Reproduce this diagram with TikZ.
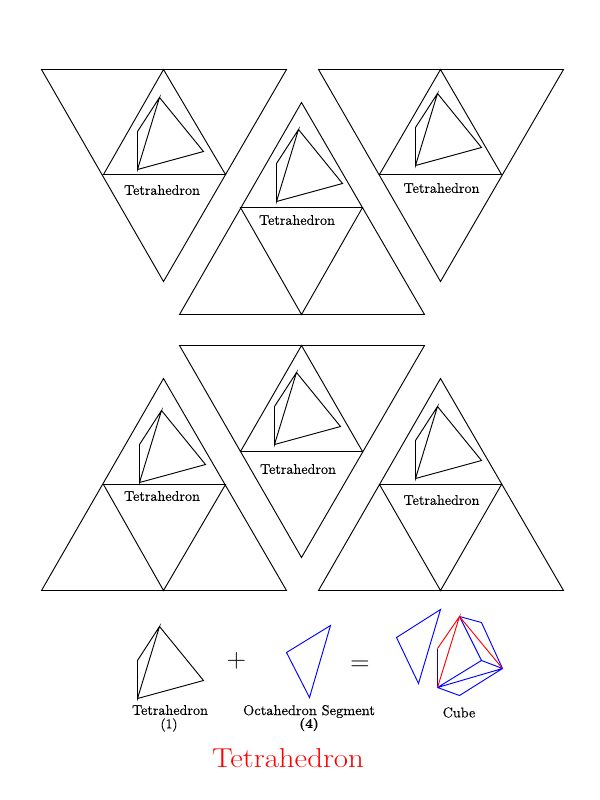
\documentclass[tikz,border=0pt]{standalone}
\usepackage{fontspec}
\newfontfamily\labfont[FakeBold=0.35]{Latin Modern Roman}
\begin{document}
\begin{tikzpicture}[x=0.75pt,y=-0.75pt,line join=miter,
  edge/.style={draw=black,line width=0.7pt},
  blueedge/.style={draw=blue,line width=0.7pt},
  rededge/.style={draw=red,line width=0.7pt},
  lab/.style={inner sep=0pt,font=\labfont\fontsize{10.6}{12}\selectfont},
  sublab/.style={inner sep=0pt,font=\labfont\fontsize{10}{12}\selectfont},
  op/.style={inner sep=0pt,font=\fontsize{20}{22}\selectfont},
  tet/.pic={\draw[edge] (22,0) -- (0,34) -- (0,72) -- cycle (0,72) -- (66,54) -- (22,0);}]
\useasboundingbox (0,0) rectangle (600,800);
\fill[white] (0,0) rectangle (600,800);
\begin{scope}[shift={(0.5,0.5)}]
% top row
\draw[edge] (41,69) -- (286,69) -- (163,281) -- cycle (163,69) -- (103,174) -- (225,174) -- cycle;
\draw[edge] (301,102) -- (424,314) -- (179,314) -- cycle (301,314) -- (240,207) -- (362,207) -- cycle;
\draw[edge] (318,69) -- (563,69) -- (440,281) -- cycle (440,69) -- (379,174) -- (501,174) -- cycle;
% second row
\draw[edge] (163,378) -- (286,590) -- (41,590) -- cycle (163,590) -- (103,484) -- (225,484) -- cycle;
\draw[edge] (179,345) -- (424,345) -- (301,557) -- cycle (301,345) -- (240,451) -- (362,451) -- cycle;
\draw[edge] (440,378) -- (563,590) -- (318,590) -- cycle (440,590) -- (379,484) -- (501,484) -- cycle;
% tetrahedra
\pic at (137,97) {tet};
\pic at (276,129) {tet};
\pic at (415,93) {tet};
\pic at (139,410) {tet};
\pic at (274,372) {tet};
\pic at (415,406) {tet};
\pic at (137,626) {tet};
% octahedron segments
\draw[blueedge] (330,625) -- (286,652) -- (309,697) -- cycle;
\draw[blueedge] (440,609) -- (396,637) -- (418,683) -- cycle;
% cube
\coordinate (T) at (459,616);
\coordinate (U) at (481,622);
\coordinate (R) at (502,668);
\coordinate (C) at (481,660);
\coordinate (B) at (437,687);
\coordinate (L) at (437,648);
\coordinate (D) at (459,695);
\draw[blueedge] (T) -- (U) -- (R) -- (C) -- (B) -- (L) (T) -- (C) (B) -- (R) (B) -- (D) -- (R);
\draw[rededge] (L) -- (T) -- (B) (T) -- (R);
\end{scope}
% labels
\node[lab] (t1) at (162,190) {Tetrahedron};
\node[lab] (t2) at (297,220) {Tetrahedron};
\node[lab] (t3) at (441.5,188) {Tetrahedron};
\node[lab] (t4) at (162,496) {Tetrahedron};
\node[lab] (t5) at (298,469) {Tetrahedron};
\node[lab] (t6) at (441.5,500) {Tetrahedron};
\node[lab] (t7) at (170,710) {Tetrahedron};
\node[sublab] (n1) at (169,725) {(1)};
\node[lab,xscale=1.02] (o) at (309,711.5) {Octahedron Segment};
\node[sublab] (n4) at (309,724.5) {\textbf{(4)}};
\node[lab] (c) at (459,712.5) {Cube};
\node[op] (plus) at (236.5,661) {+};
\node[op] (eq) at (360,666) {=};
\node[inner sep=0pt,text=red,xscale=1.13,font=\fontsize{20.5}{24}\selectfont] (title) at (288,758) {Tetrahedron};
\end{tikzpicture}
\end{document}
